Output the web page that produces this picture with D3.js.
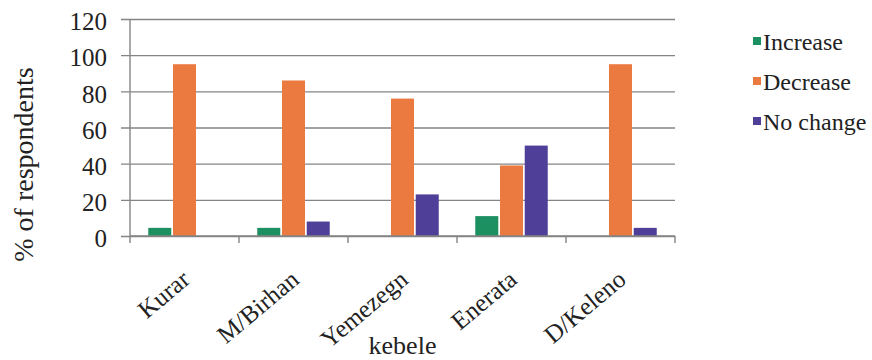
<!DOCTYPE html>
<html>
<head>
<meta charset="utf-8">
<script src="https://cdn.jsdelivr.net/npm/d3@7"></script>
<style>
  html, body { margin: 0; padding: 0; background: #fff; }
</style>
</head>
<body>
<svg id="chart" width="872" height="360"></svg>
<script>
// Percent of respondents by kebele and perceived trend
const categories = ["Kurar", "M/Birhan", "Yemezegn", "Enerata", "D/Keleno"];
const seriesNames = ["Increase", "Decrease", "No change"];
const increase = [4.5, 4.5, 0, 11, 0];
const decrease = [95, 86, 76, 39, 95];
const noChange = [0, 8, 23, 50, 4.5];
const yTicks = [0, 20, 40, 60, 80, 100, 120];
const colors = ["#1d9062", "#eb7a41", "#4f3f98"];

const FONT = "'Liberation Serif', 'Times New Roman', Times, serif";

const seriesValues = [increase, decrease, noChange];
const rows = categories.map((c, i) => ({
  kebele: c,
  values: seriesNames.map((s, k) => ({ key: s, value: seriesValues[k][i] }))
}));

const svg = d3.select("#chart").style("font-family", FONT);
const plot = { left: 130, right: 675, top: 19, bottom: 236 };

const x = d3.scaleBand().domain(categories).range([plot.left, plot.right]).padding(0);
const groupWidth = x.bandwidth() * 0.665;
const xInner = d3.scaleBand().domain(seriesNames)
  .range([0, groupWidth]).paddingInner(0.07);
const y = d3.scaleLinear().domain([0, 120]).range([plot.bottom, plot.top]);
const color = d3.scaleOrdinal().domain(seriesNames).range(colors);

// Horizontal gridlines with short ticks to the left of the axis
const yAxis = d3.axisLeft(y).tickValues(yTicks)
  .tickSize(-(plot.right - plot.left) - 9).tickPadding(14).tickFormat(d3.format("d"));
const gy = svg.append("g")
  .attr("transform", `translate(${plot.left - 9},0)`)
  .call(yAxis);
gy.attr("font-family", null);
gy.select(".domain").remove();
gy.selectAll(".tick line")
  .attr("stroke", "#858585").attr("stroke-width", 1.4);
gy.selectAll(".tick text")
  .attr("x", -14).attr("dy", "0.43em")
  .style("font-family", FONT)
  .style("font-size", "25px").attr("fill", "#222");

// Vertical axis line
svg.append("line")
  .attr("x1", plot.left).attr("x2", plot.left)
  .attr("y1", plot.top).attr("y2", plot.bottom)
  .attr("stroke", "#858585").attr("stroke-width", 1.4);

// Bars
const groups = svg.append("g").selectAll("g")
  .data(rows).join("g")
  .attr("transform", d => `translate(${x(d.kebele) + (x.bandwidth() - groupWidth) / 2},0)`);
groups.selectAll("rect")
  .data(d => d.values.filter(v => v.value > 0))
  .join("rect")
  .attr("x", d => xInner(d.key))
  .attr("width", xInner.bandwidth())
  .attr("y", d => y(d.value))
  .attr("height", d => y(0) - y(d.value))
  .attr("fill", d => color(d.key));

// Category axis with tick marks at band boundaries
const bounds = categories.map(c => x(c)).concat([plot.right]);
const gx = svg.append("g");
gx.append("line")
  .attr("x1", plot.left).attr("x2", plot.right)
  .attr("y1", plot.bottom).attr("y2", plot.bottom)
  .attr("stroke", "#858585").attr("stroke-width", 1.4);
gx.selectAll("line.tk").data(bounds).join("line")
  .attr("class", "tk")
  .attr("x1", d => d).attr("x2", d => d)
  .attr("y1", plot.bottom).attr("y2", plot.bottom + 7)
  .attr("stroke", "#858585").attr("stroke-width", 1.4);
gx.selectAll("text").data(categories).join("text")
  .attr("transform", d => `translate(${x(d) + x.bandwidth() / 2 + 7},${plot.bottom + 46}) rotate(-40)`)
  .attr("text-anchor", "end")
  .style("font-family", FONT)
  .style("font-size", "25px").attr("fill", "#222")
  .text(d => d);

// Axis titles
svg.append("text")
  .attr("transform", `translate(33,${(plot.top + plot.bottom) / 2 + 37}) rotate(-90)`)
  .attr("text-anchor", "middle")
  .style("font-family", FONT)
  .style("font-size", "28px").attr("fill", "#222")
  .text("% of respondents");
svg.append("text")
  .attr("x", (plot.left + plot.right) / 2).attr("y", 354)
  .attr("text-anchor", "middle")
  .style("font-family", FONT)
  .style("font-size", "26px").attr("fill", "#222")
  .text("kebele");

// Legend
const legend = svg.append("g").attr("transform", "translate(753,0)");
const items = legend.selectAll("g").data(seriesNames).join("g")
  .attr("transform", (d, i) => `translate(0,${50 + i * 40})`);
items.append("rect")
  .attr("x", 0).attr("y", -13).attr("width", 8).attr("height", 8)
  .attr("fill", d => color(d));
items.append("text")
  .attr("x", 10).attr("y", 0)
  .style("font-family", FONT)
  .style("font-size", "24px").attr("fill", "#222")
  .text(d => d);
</script>
</body>
</html>
